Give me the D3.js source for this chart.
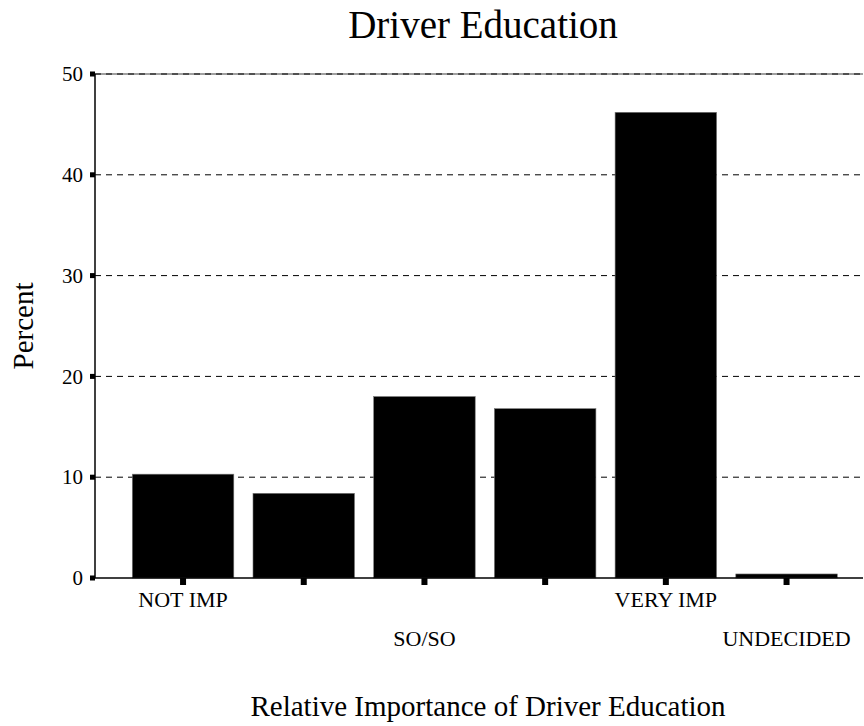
<!DOCTYPE html>
<html>
<head>
<meta charset="utf-8">
<script src="https://cdn.jsdelivr.net/npm/d3@7"></script>
<style>
  html, body { margin: 0; padding: 0; background: #fff; }
  svg { display: block; }
  text { font-family: "Liberation Serif", "Times New Roman", serif; fill: #000; }
</style>
</head>
<body>
<svg id="chart" width="864" height="726"></svg>
<script>
// ---- data ----
const categories = ["NOT IMP", "", "SO/SO", "", "VERY IMP", "UNDECIDED"];
const percents = [10.3, 8.4, 18.0, 16.8, 46.2, 0.4];
const yTicks = [0, 10, 20, 30, 40, 50];
const titleText = "Driver Education";
const xTitleText = "Relative Importance of Driver Education";
const yTitleText = "Percent";

// ---- layout ----
const svg = d3.select("#chart");
const plotLeft = 95, plotRight = 863, plotTop = 74, plotBottom = 578;

const x = d3.scaleBand()
  .domain(d3.range(categories.length))
  .range([113.1, 856.5])
  .padding(0.159);

const y = d3.scaleLinear().domain([0, 50]).range([plotBottom, plotTop]);

// title
svg.append("text")
  .attr("x", 483).attr("y", 38)
  .attr("text-anchor", "middle")
  .style("font-size", "39px")
  .text(titleText);

// top frame line (gray) under the 50 gridline
svg.append("line")
  .attr("x1", plotLeft).attr("x2", plotRight)
  .attr("y1", y(50)).attr("y2", y(50))
  .attr("stroke", "#808080").attr("stroke-width", 1.5);

// gridlines
svg.append("g").selectAll("line")
  .data(yTicks.filter(d => d > 0))
  .join("line")
  .attr("x1", plotLeft).attr("x2", plotRight)
  .attr("y1", d => y(d)).attr("y2", d => y(d))
  .attr("stroke", "#000").attr("stroke-width", 1)
  .attr("stroke-dasharray", "6,5");

// bars
svg.append("g").selectAll("rect")
  .data(percents)
  .join("rect")
  .attr("x", (d, i) => x(i))
  .attr("width", x.bandwidth())
  .attr("y", d => y(d))
  .attr("height", d => y(0) - y(d))
  .attr("fill", "#000")
  .attr("stroke", "#777").attr("stroke-width", 0.6);

// baseline
svg.append("line")
  .attr("x1", plotLeft).attr("x2", plotRight)
  .attr("y1", y(0)).attr("y2", y(0))
  .attr("stroke", "#000").attr("stroke-width", 1.5);

// y axis line
svg.append("line")
  .attr("x1", plotLeft).attr("x2", plotLeft)
  .attr("y1", y(50)).attr("y2", y(0))
  .attr("stroke", "#000").attr("stroke-width", 1.5);

// y ticks (small squares) and labels
const yg = svg.append("g");
yg.selectAll("rect")
  .data(yTicks)
  .join("rect")
  .attr("x", plotLeft - 5).attr("width", 5)
  .attr("y", d => y(d) - 2.5).attr("height", 5)
  .attr("fill", "#000");
yg.selectAll("text")
  .data(yTicks)
  .join("text")
  .attr("x", 83).attr("y", d => y(d))
  .attr("dy", "0.34em")
  .attr("text-anchor", "end")
  .style("font-size", "21px")
  .text(d => d);

// x ticks
const xg = svg.append("g");
xg.selectAll("rect")
  .data(categories)
  .join("rect")
  .attr("x", (d, i) => x(i) + x.bandwidth() / 2 - 3)
  .attr("width", 6)
  .attr("y", y(0)).attr("height", 7)
  .attr("fill", "#000");

// x labels, staggered among non-empty labels
let k = 0;
const labelRows = categories.map(c => c ? (k++ % 2) : 0);
xg.selectAll("text")
  .data(categories)
  .join("text")
  .attr("x", (d, i) => x(i) + x.bandwidth() / 2)
  .attr("y", (d, i) => labelRows[i] === 0 ? 607 : 646)
  .attr("text-anchor", "middle")
  .style("font-size", "22px")
  .text(d => d);

// axis titles
svg.append("text")
  .attr("x", 488).attr("y", 716)
  .attr("text-anchor", "middle")
  .style("font-size", "29px")
  .text(xTitleText);

svg.append("text")
  .attr("transform", "translate(33," + ((plotTop + plotBottom) / 2) + ") rotate(-90)")
  .attr("text-anchor", "middle")
  .style("font-size", "29px")
  .text(yTitleText);
</script>
</body>
</html>
